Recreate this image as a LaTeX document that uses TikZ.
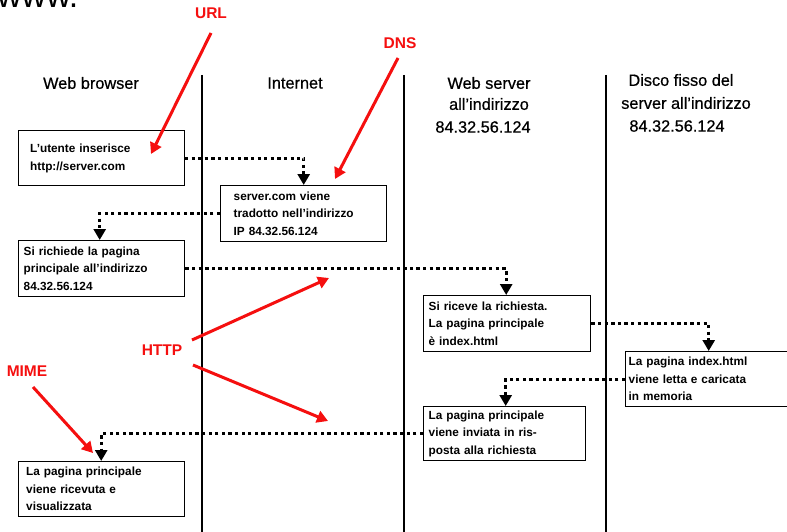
\documentclass[tikz,border=0pt]{standalone}
\usepackage{fontspec}
\setmainfont{Liberation Sans}
\newfontfamily\headfont[FakeBold=0.6]{Liberation Sans}
\usetikzlibrary{arrows.meta}
\definecolor{lblred}{RGB}{245,15,15}
\tikzset{
  box/.style={draw, line width=1.4pt, anchor=north west, align=left,
    inner ysep=0pt, minimum height=55pt,
    font=\bfseries\fontsize{11.8}{17.5}\selectfont},
  header/.style={font=\headfont\fontsize{16.3}{22}\selectfont, inner sep=0pt},
  lane/.style={line width=1.5pt},
  flow/.style={line width=3pt, dash pattern=on 3.3pt off 3.3pt,
    -{Triangle[width=12pt,length=11pt]}},
  lbl/.style={text=lblred, font=\bfseries\fontsize{15.5}{18}\selectfont, inner sep=0pt},
  note/.style={draw=lblred, line width=3pt,
    -{Triangle[width=12pt,length=11pt]}}
}
\begin{document}
\begin{tikzpicture}[x=1pt,y=-1pt]
\useasboundingbox (0,0) rectangle (787,532);
\clip (0,0) rectangle (787,532);
\fill[white] (0,0) rectangle (787,532);

% clipped fragment at top
\node[anchor=base west, inner sep=0pt, font=\fontsize{34}{34}\selectfont] (frag) at (-3,8) {www.};

% lanes
\draw[lane] (202,75) -- (202,532);
\draw[lane] (404,75) -- (404,532);
\draw[lane] (606,75) -- (606,532);

% headers
\node[header] (h1) at (91,83) {Web browser};
\node[header] (h2) at (295,83) {Internet};
\node[header] (h3a) at (489,83) {Web server};
\node[header] (h3b) at (489,104) {all’indirizzo};
\node[header] (h3c) at (483,127) {84.32.56.124};
\node[header] (h4a) at (681,80) {Disco fisso del};
\node[header] (h4b) at (686,103) {server all’indirizzo};
\node[header] (h4c) at (677,126) {84.32.56.124};

% boxes
\node[box, text width=142pt, inner xsep=12pt] (b1) at (17.5,130) {L’utente inserisce\\http://server.com};
\node[box, text width=140pt, inner xsep=13pt, minimum height=55.5pt] (b2) at (220,185) {server.com viene\\tradotto nell’indirizzo\\IP 84.32.56.124};
\node[box, text width=156pt, inner xsep=5pt, minimum height=56pt] (b3) at (18,240) {Si richiede la pagina\\principale all’indirizzo\\84.32.56.124};
\node[box, text width=157pt, inner xsep=5pt, minimum height=55.5pt] (b4) at (423,295) {Si riceve la richiesta.\\La pagina principale\\è index.html};
\node[box, text width=160pt, inner xsep=3pt] (b5) at (625,351) {La pagina index.html\\viene letta e caricata\\in memoria};
\node[box, text width=152pt, inner xsep=5pt, minimum height=54pt] (b6) at (423,406) {La pagina principale\\viene inviata in ris-\\posta alla richiesta};
\node[box, text width=150pt, inner xsep=8pt] (b7) at (17.5,461) {La pagina principale\\viene ricevuta e\\visualizzata};

% flow connectors
\draw[flow] (b1.east) -| (b2.north);
\draw[flow] (b2.west) -| ([xshift=-2pt]b3.north);
\draw[flow] (b3.east) -| ([xshift=-1pt]b4.north);
\draw[flow] (b4.east) -| (b5.north);
\draw[flow] (b5.west) -| ([xshift=1pt]b6.north);
\draw[flow] (b6.west) -| (b7.north);

% red labels
\node[lbl] (url) at (211,13.5) {URL};
\node[lbl] (dns) at (400,43.5) {DNS};
\node[lbl] (http) at (162,350.5) {HTTP};
\node[lbl] (mime) at (27,371) {MIME};

\coordinate (urlS) at (211,33);
\coordinate (urlE) at (151,154);
\coordinate (dnsS) at (398,58);
\coordinate (dnsE) at (335,179);
\coordinate (httpS1) at (192,340);
\coordinate (httpE1) at (329,278);
\coordinate (httpS2) at (193,365);
\coordinate (httpE2) at (328,421);
\coordinate (mimeS) at (33,387);
\coordinate (mimeE) at (93,453);

\draw[note] (urlS) -- (urlE);
\draw[note] (dnsS) -- (dnsE);
\draw[note] (httpS1) -- (httpE1);
\draw[note] (httpS2) -- (httpE2);
\draw[note] (mimeS) -- (mimeE);
\end{tikzpicture}
\end{document}
